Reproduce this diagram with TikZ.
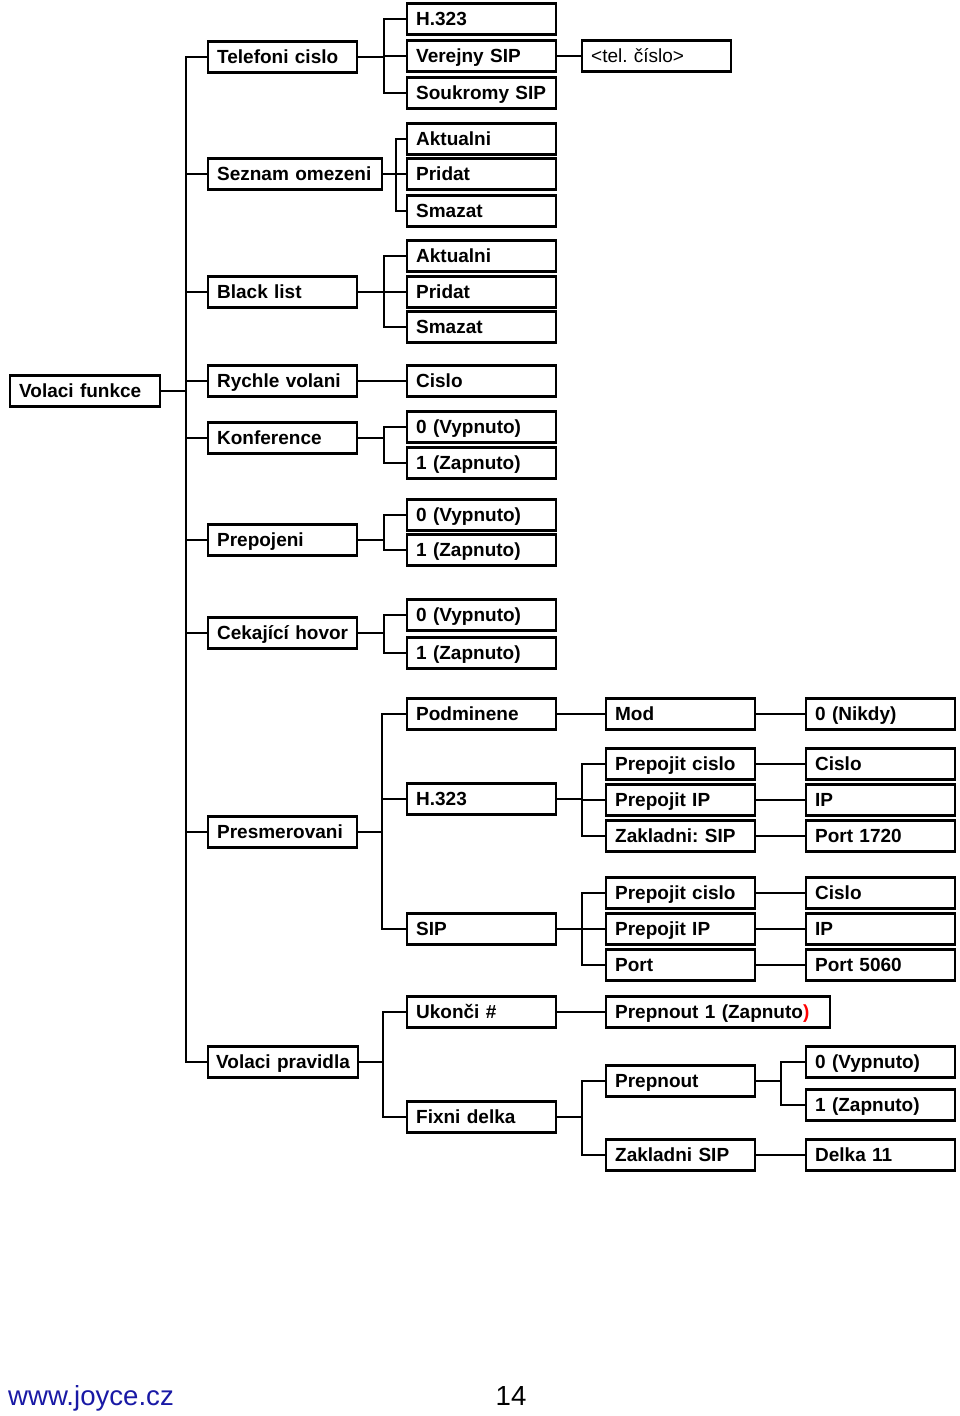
\documentclass[tikz,border=0pt]{standalone}
\usepackage{fontspec}
\setmainfont{Liberation Sans}
\definecolor{linkblue}{RGB}{25,25,165}
\frenchspacing
\begin{document}
\begin{tikzpicture}[x=1pt,y=-1pt,
  box/.style={draw,line width=2.3pt,anchor=west,inner xsep=9pt,inner ysep=0pt,
    minimum height=31pt,text width=131pt,align=left,text height=15pt,text depth=3pt,
    font=\bfseries\fontsize{19}{22}\selectfont},
  link/.style={line width=2.3pt},
  foot/.style={inner sep=0pt,font=\fontsize{27.6}{30}\selectfont}]
\useasboundingbox (0,0) rectangle (960,1416);
\node[box,text width=132pt] (vf) at (9,391) {Volaci funkce};
\node[box] (tel) at (207,57) {Telefoni cislo};
\node[box] (tel1) at (406,19) {H.323};
\node[box] (tel2) at (406,56) {Verejny SIP};
\node[box] (tel3) at (406,93) {Soukromy SIP};
\node[box,font=\fontsize{19}{22}\selectfont] (tc) at (581,56) {<tel. číslo>};
\node[box,text width=156pt] (so) at (207,174) {Seznam omezeni};
\node[box] (so1) at (406,139) {Aktualni};
\node[box] (so2) at (406,174) {Pridat};
\node[box] (so3) at (406,211) {Smazat};
\node[box] (bl) at (207,292) {Black list};
\node[box] (bl1) at (406,256) {Aktualni};
\node[box] (bl2) at (406,292) {Pridat};
\node[box] (bl3) at (406,327) {Smazat};
\node[box] (rv) at (207,381) {Rychle volani};
\node[box] (rv1) at (406,381) {Cislo};
\node[box] (ko) at (207,438) {Konference};
\node[box] (ko1) at (406,427) {0 (Vypnuto)};
\node[box] (ko2) at (406,463) {1 (Zapnuto)};
\node[box] (pj) at (207,540) {Prepojeni};
\node[box] (pj1) at (406,515) {0 (Vypnuto)};
\node[box] (pj2) at (406,550) {1 (Zapnuto)};
\node[box] (ch) at (207,633) {Cekající hovor};
\node[box] (ch1) at (406,615) {0 (Vypnuto)};
\node[box] (ch2) at (406,653) {1 (Zapnuto)};
\node[box] (pr) at (207,832) {Presmerovani};
\node[box] (pr1) at (406,714) {Podminene};
\node[box] (pr1a) at (605,714) {Mod};
\node[box] (pr1b) at (805,714) {0 (Nikdy)};
\node[box] (pr2) at (406,799) {H.323};
\node[box] (pr2a) at (605,764) {Prepojit cislo};
\node[box] (pr2b) at (605,800) {Prepojit IP};
\node[box] (pr2c) at (605,836) {Zakladni: SIP};
\node[box] (pr2d) at (805,764) {Cislo};
\node[box] (pr2e) at (805,800) {IP};
\node[box] (pr2f) at (805,836) {Port 1720};
\node[box] (pr3) at (406,929) {SIP};
\node[box] (pr3a) at (605,893) {Prepojit cislo};
\node[box] (pr3b) at (605,929) {Prepojit IP};
\node[box] (pr3c) at (605,965) {Port};
\node[box] (pr3d) at (805,893) {Cislo};
\node[box] (pr3e) at (805,929) {IP};
\node[box] (pr3f) at (805,965) {Port 5060};
\node[box,text width=134pt,inner xsep=8pt] (vp) at (207,1062) {Volaci pravidla};
\node[box] (vp1) at (406,1012) {Ukonči \#};
\node[box,text width=206pt] (vp1a) at (605,1012) {Prepnout 1 (Zapnuto\textcolor{red}{)}};
\node[box] (vp2) at (406,1117) {Fixni delka};
\node[box] (vp2a) at (605,1081) {Prepnout};
\node[box] (vp2b) at (805,1062) {0 (Vypnuto)};
\node[box] (vp2c) at (805,1105) {1 (Zapnuto)};
\node[box] (vp2d) at (605,1155) {Zakladni SIP};
\node[box] (vp2e) at (805,1155) {Delka 11};
\node[foot,text=linkblue,anchor=base west] (url) at (8,1405) {www.joyce.cz};
\node[foot,anchor=base] (pg) at (511,1405) {14};
\foreach \c in {tel,so,bl,rv,ko,pj,ch,pr,vp} \draw[link] (vf.east) -- ++(25,0) |- (\c.west);
\foreach \c in {tel1,tel2,tel3} \draw[link] (tel.east) -- ++(26,0) |- (\c.west);
\draw[link] (tel2.east) -- (tc.west);
\foreach \c in {so1,so2,so3} \draw[link] (so.east) -- ++(13,0) |- (\c.west);
\foreach \c in {bl1,bl2,bl3} \draw[link] (bl.east) -- ++(26,0) |- (\c.west);
\draw[link] (rv.east) -- (rv1.west);
\foreach \c in {ko1,ko2} \draw[link] (ko.east) -- ++(26,0) |- (\c.west);
\foreach \c in {pj1,pj2} \draw[link] (pj.east) -- ++(26,0) |- (\c.west);
\foreach \c in {ch1,ch2} \draw[link] (ch.east) -- ++(26,0) |- (\c.west);
\foreach \c in {pr1,pr2,pr3} \draw[link] (pr.east) -- ++(24,0) |- (\c.west);
\draw[link] (pr1.east) -- (pr1a.west);
\draw[link] (pr1a.east) -- (pr1b.west);
\foreach \c in {pr2a,pr2b,pr2c} \draw[link] (pr2.east) -- ++(25,0) |- (\c.west);
\draw[link] (pr2a.east) -- (pr2d.west);
\draw[link] (pr2b.east) -- (pr2e.west);
\draw[link] (pr2c.east) -- (pr2f.west);
\foreach \c in {pr3a,pr3b,pr3c} \draw[link] (pr3.east) -- ++(25,0) |- (\c.west);
\draw[link] (pr3a.east) -- (pr3d.west);
\draw[link] (pr3b.east) -- (pr3e.west);
\draw[link] (pr3c.east) -- (pr3f.west);
\foreach \c in {vp1,vp2} \draw[link] (vp.east) -- ++(24,0) |- (\c.west);
\draw[link] (vp1.east) -- (vp1a.west);
\foreach \c in {vp2a,vp2d} \draw[link] (vp2.east) -- ++(25,0) |- (\c.west);
\foreach \c in {vp2b,vp2c} \draw[link] (vp2a.east) -- ++(25,0) |- (\c.west);
\draw[link] (vp2d.east) -- (vp2e.west);
\end{tikzpicture}
\end{document}
